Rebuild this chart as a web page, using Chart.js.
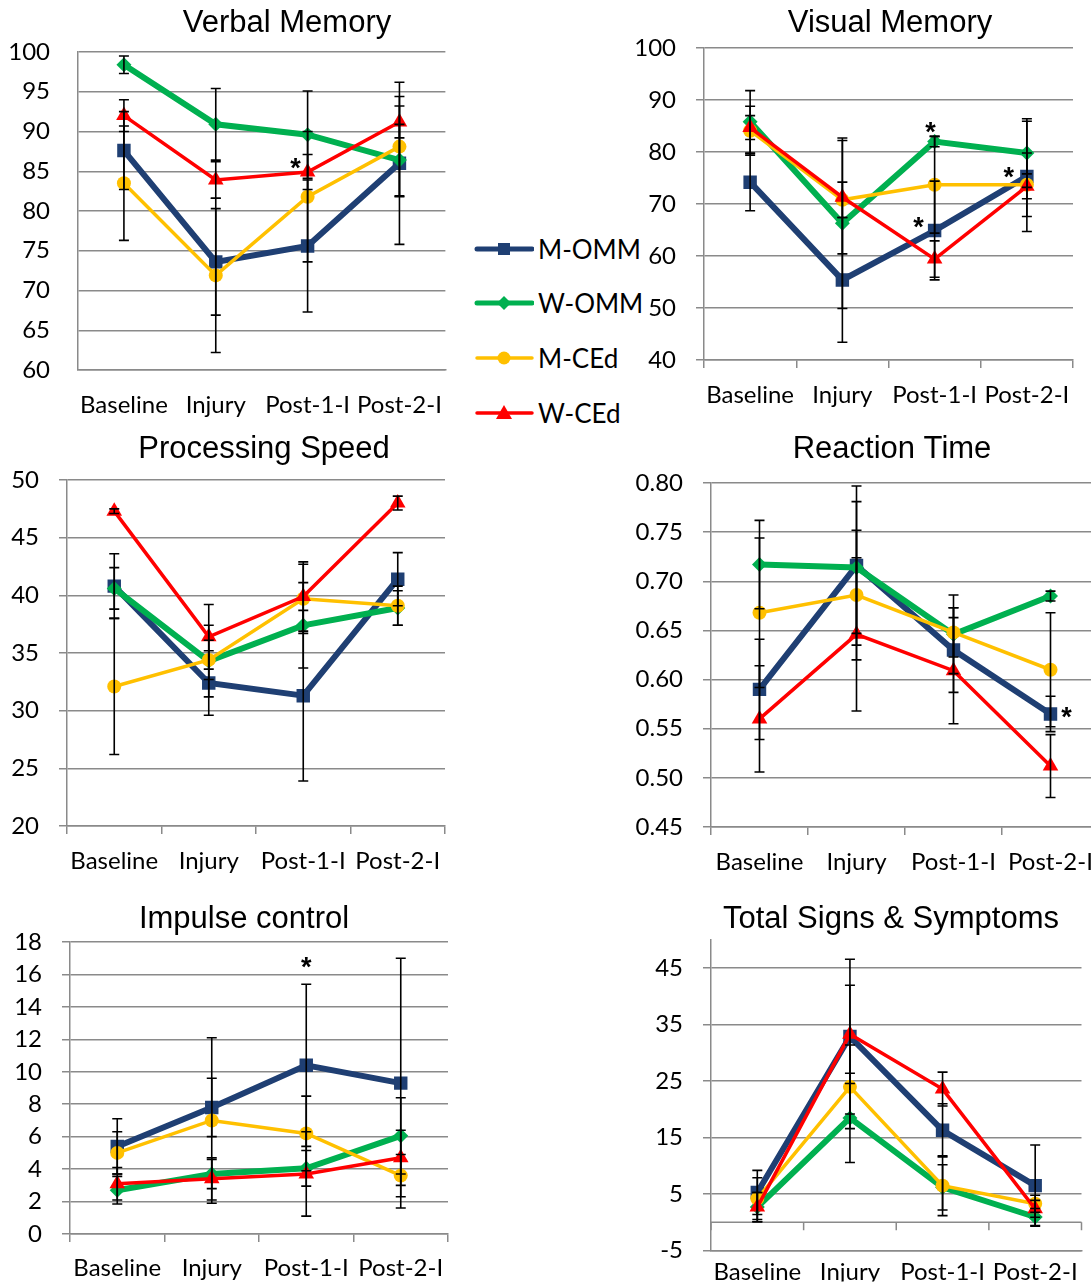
<!DOCTYPE html>
<html>
<head>
<meta charset="utf-8">
<script src="https://cdn.jsdelivr.net/npm/chart.js@4.4.1/dist/chart.umd.min.js"></script>
<style>
  body { margin: 0; background: #fff; width: 1091px; height: 1285px; overflow: hidden; position: relative; font-family: Lato, sans-serif; }
  canvas { position: absolute; }
  .lg { position: absolute; left: 474px; height: 40px; display: flex; align-items: center; font-size: 26px; color: #000; }
  .lg svg { margin-right: 4px; }
</style>
</head>
<body>
<div class="lg" style="top:229px"><svg width="60" height="20"><line x1="3" y1="10" x2="58" y2="10" stroke="#1f3f73" stroke-width="5" stroke-linecap="round"/><rect x="24" y="4" width="12" height="12" fill="#1f3f73"/></svg>M-OMM</div>
<div class="lg" style="top:283px"><svg width="60" height="20"><line x1="3" y1="10" x2="58" y2="10" stroke="#00b050" stroke-width="5" stroke-linecap="round"/><polygon points="30,3 37,10 30,17 23,10" fill="#00b050"/></svg>W-OMM</div>
<div class="lg" style="top:338px"><svg width="60" height="20"><line x1="3" y1="10" x2="58" y2="10" stroke="#ffc000" stroke-width="3.5" stroke-linecap="round"/><circle cx="30" cy="10" r="6.5" fill="#ffc000"/></svg>M-CEd</div>
<div class="lg" style="top:393px"><svg width="60" height="20"><line x1="3" y1="10" x2="58" y2="10" stroke="#ff0000" stroke-width="3.5" stroke-linecap="round"/><polygon points="30,2 38,16 22,16" fill="#ff0000"/></svg>W-CEd</div>

<script>
// Data
const categories = ['Baseline', 'Injury', 'Post-1-I', 'Post-2-I'];
const seriesNames = ['M-OMM', 'W-OMM', 'M-CEd', 'W-CEd'];

// rows: M-OMM, W-OMM, M-CEd, W-CEd
const verbalMeans = [[87.6, 73.6, 75.6, 86.0], [98.4, 90.9, 89.6, 86.4], [83.5, 71.9, 81.8, 88.1], [92.0, 83.9, 84.9, 91.2]];
const verbalErrors = [[4.9, 6.7, 8.3, 10.2], [1.1, 4.5, 5.5, 4.5], [7.2, 9.7, 8.2, 6.3], [2.0, 2.3, 2.2, 2.0]];
const verbalTicks = [60, 65, 70, 75, 80, 85, 90, 95, 100];
const verbalStars = [[2, 86.3]];

const visualMeans = [[74.2, 55.4, 64.9, 75.3], [85.8, 66.3, 82.0, 79.8], [84.1, 70.8, 73.7, 73.7], [84.7, 71.3, 59.4, 73.4]];
const visualErrors = [[5.5, 12.0, 9.5, 10.6], [6.0, 16.4, 1.0, 6.6], [4.7, 3.4, 9.3, 6.1], [2.3, 10.9, 3.5, 2.4]];
const visualTicks = [40, 50, 60, 70, 80, 90, 100];
const visualStars = [[2, 85.2], [2, 66.9], [3, 76.5]];

const speedMeans = [[40.8, 32.4, 31.3, 41.4], [40.6, 34.3, 37.4, 38.9], [32.1, 34.4, 39.7, 39.1], [47.3, 36.4, 39.9, 48.0]];
const speedErrors = [[2.8, 2.8, 7.4, 2.3], [1.8, 3.1, 3.7, 1.5], [5.9, 1.7, 3.0, 1.7], [0.2, 2.8, 3.0, 0.6]];
const speedTicks = [20, 25, 30, 35, 40, 45, 50];

const reactionMeans = [[0.590, 0.716, 0.630, 0.565], [0.717, 0.714, 0.646, 0.685], [0.668, 0.686, 0.648, 0.610], [0.560, 0.646, 0.609, 0.512]];
const reactionErrors = [[0.051, 0.081, 0.043, 0.018], [0.045, 0.067, 0.040, 0.005], [0.076, 0.066, 0.025, 0.058], [0.054, 0.078, 0.054, 0.032]];
const reactionTicks = [0.45, 0.50, 0.55, 0.60, 0.65, 0.70, 0.75, 0.80];
const reactionStars = [[3, 0.569]];

const impulseMeans = [[5.4, 7.8, 10.4, 9.3], [2.7, 3.7, 4.05, 6.05], [5.0, 7.0, 6.2, 3.6], [3.1, 3.4, 3.7, 4.7]];
const impulseErrors = [[1.7, 1.8, 5.0, 7.7], [0.85, 0.9, 1.1, 2.35], [1.3, 5.1, 2.3, 1.3], [1.0, 1.3, 2.6, 1.7]];
const impulseTicks = [0, 2, 4, 6, 8, 10, 12, 14, 16, 18];
const impulseStars = [[2, 16.9]];

const symptomMeans = [[5.3, 32.9, 16.3, 6.5], [2.7, 18.5, 6.2, 0.95], [4.2, 24.0, 6.5, 3.3], [2.7, 33.3, 23.6, 2.4]];
const symptomErrors = [[3.9, 13.7, 4.7, 7.2], [2.6, 7.9, 4.0, 1.5], [3.7, 7.4, 5.3, 1.5], [2.6, 8.7, 3.0, 1.5]];
const symptomTicks = [-5, 5, 15, 25, 35, 45];

// styles
const colors = ['#1f3f73', '#00b050', '#ffc000', '#ff0000'];
const lineWidths = [6, 6, 3.5, 3.5];
const pointStyles = ['rect', 'rectRot', 'circle', 'triangle'];
const pointRadii = [9.5, 7.5, 7, 9];
const gridColor = '#8a8a8a';
const labelFont = { family: 'Lato', size: 24 };

const errorBars = {
  id: 'errorBars',
  afterDatasetsDraw(chart) {
    const ctx = chart.ctx, ys = chart.scales.y;
    ctx.save();
    ctx.strokeStyle = '#000';
    ctx.lineWidth = 1.6;
    chart.data.datasets.forEach((ds, i) => {
      chart.getDatasetMeta(i).data.forEach((pt, j) => {
        const e = ds.errors[j];
        if (!e) return;
        const top = ys.getPixelForValue(ds.data[j] + e);
        const bot = ys.getPixelForValue(ds.data[j] - e);
        ctx.beginPath();
        ctx.moveTo(pt.x, top); ctx.lineTo(pt.x, bot);
        ctx.moveTo(pt.x - 5, top); ctx.lineTo(pt.x + 5, top);
        ctx.moveTo(pt.x - 5, bot); ctx.lineTo(pt.x + 5, bot);
        ctx.stroke();
      });
    });
    ctx.restore();
  }
};

const panelText = {
  id: 'panelText',
  afterDraw(chart, args, opts) {
    const ctx = chart.ctx;
    ctx.save();
    ctx.fillStyle = '#000';
    ctx.textAlign = 'center';
    ctx.textBaseline = 'alphabetic';
    ctx.font = '31px "Liberation Sans"';
    ctx.fillText(opts.title, opts.titleX, opts.titleY);
    ctx.font = 'bold 27px "Liberation Sans"';
    (opts.stars || []).forEach((s, k) => {
      const x = chart.scales.x.getPixelForValue(s[0]) + (opts.starDx[k] || 0);
      const y = chart.scales.y.getPixelForValue(s[1]);
      ctx.fillText('*', x, y + 16);
    });
    ctx.restore();
  }
};

const zeroLine = {
  id: 'zeroLine',
  beforeDatasetsDraw(chart, args, opts) {
    if (!opts.show) return;
    const ctx = chart.ctx, xs = chart.scales.x, ys = chart.scales.y;
    const y0 = ys.getPixelForValue(0);
    ctx.save();
    ctx.strokeStyle = gridColor;
    ctx.lineWidth = 1.5;
    ctx.beginPath();
    ctx.moveTo(xs.left, y0); ctx.lineTo(xs.right, y0);
    for (let i = 0; i <= categories.length; i++) {
      const x = xs.getPixelForValue(i - 0.5);
      ctx.moveTo(x, y0); ctx.lineTo(x, y0 + 8);
    }
    ctx.stroke();
    ctx.restore();
  }
};

function makePanel(p) {
  const [cl, ct, cw, ch] = p.box;
  const [pl, pt, pr, pb] = p.plot;
  const cv = document.createElement('canvas');
  cv.width = cw; cv.height = ch;
  cv.style.left = cl + 'px'; cv.style.top = ct + 'px';
  cv.style.width = cw + 'px'; cv.style.height = ch + 'px';
  document.body.appendChild(cv);

  const datasets = p.means.map((vals, i) => ({
    label: seriesNames[i],
    data: vals,
    errors: p.errors[i],
    order: 3 - i,
    borderColor: colors[i],
    backgroundColor: colors[i],
    borderWidth: lineWidths[i],
    pointStyle: pointStyles[i],
    pointRadius: pointRadii[i],
    pointBorderWidth: 0,
    tension: 0
  }));

  new Chart(cv, {
    type: 'line',
    data: { labels: categories, datasets },
    options: {
      responsive: false,
      animation: false,
      layout: { padding: { left: 0, top: pt - ct, right: cl + cw - pr, bottom: 0 } },
      plugins: {
        legend: { display: false },
        tooltip: { enabled: false },
        panelText: { title: p.title, titleX: p.titlePos[0], titleY: p.titlePos[1], stars: p.stars, starDx: p.starDx || [] },
        zeroLine: { show: !!p.zeroLine }
      },
      scales: {
        x: {
          offset: true,
          afterFit: s => { s.height = ct + ch - pb; },
          grid: { offset: true, drawOnChartArea: false, drawTicks: p.xTicks, tickLength: 8, color: gridColor, lineWidth: 1.5 },
          border: { display: true, color: gridColor, width: 1.5 },
          ticks: { font: labelFont, color: '#000', padding: p.xPad, maxRotation: 0, autoSkip: false }
        },
        y: {
          min: p.ticks[0],
          max: p.max !== undefined ? p.max : p.ticks[p.ticks.length - 1],
          afterBuildTicks: s => { s.ticks = p.ticks.map(v => ({ value: v })); },
          afterFit: s => { s.width = pl - cl; },
          grid: { color: gridColor, lineWidth: 1.5, drawTicks: p.yTicks, tickLength: 8 },
          border: { display: true, color: gridColor, width: 1.5 },
          ticks: {
            font: labelFont, color: '#000', padding: p.yTicks ? 20 : 28,
            callback: v => p.decimals ? v.toFixed(p.decimals) : v
          }
        }
      }
    },
    plugins: [errorBars, panelText, zeroLine]
  });
}

function build() {
  makePanel({ title: 'Verbal Memory', box: [0, 0, 465, 425], plot: [78, 52, 448, 370], titlePos: [287, 32],
    means: verbalMeans, errors: verbalErrors, ticks: verbalTicks, stars: verbalStars, starDx: [-12],
    xTicks: false, yTicks: false, xPad: 21 });
  makePanel({ title: 'Visual Memory', box: [600, 0, 491, 425], plot: [704, 48, 1073, 360], titlePos: [290, 32],
    means: visualMeans, errors: visualErrors, ticks: visualTicks, stars: visualStars, starDx: [-4, -16, -18],
    xTicks: true, yTicks: true, xPad: 13 });
  makePanel({ title: 'Processing Speed', box: [0, 425, 465, 455], plot: [67, 480, 445, 826], titlePos: [264, 33],
    means: speedMeans, errors: speedErrors, ticks: speedTicks,
    xTicks: true, yTicks: true, xPad: 13 });
  makePanel({ title: 'Reaction Time', box: [600, 425, 520, 455], plot: [711, 483, 1099, 827], titlePos: [292, 33],
    means: reactionMeans, errors: reactionErrors, ticks: reactionTicks, stars: reactionStars, starDx: [16], decimals: 2,
    xTicks: true, yTicks: true, xPad: 13 });
  makePanel({ title: 'Impulse control', box: [0, 885, 465, 400], plot: [70, 942, 448, 1234], titlePos: [244, 43],
    means: impulseMeans, errors: impulseErrors, ticks: impulseTicks, stars: impulseStars, starDx: [0],
    xTicks: true, yTicks: true, xPad: 12 });
  makePanel({ title: 'Total Signs & Symptoms', box: [600, 885, 491, 400], plot: [711, 940, 1091, 1254], titlePos: [291, 43],
    means: symptomMeans, errors: symptomErrors, ticks: symptomTicks, max: 50, zeroLine: true,
    xTicks: false, yTicks: true, xPad: 7 });
}

Promise.all([
  document.fonts.load('24px Lato'),
  document.fonts.load('31px "Liberation Sans"')
]).then(build, build);
</script>
</body>
</html>
